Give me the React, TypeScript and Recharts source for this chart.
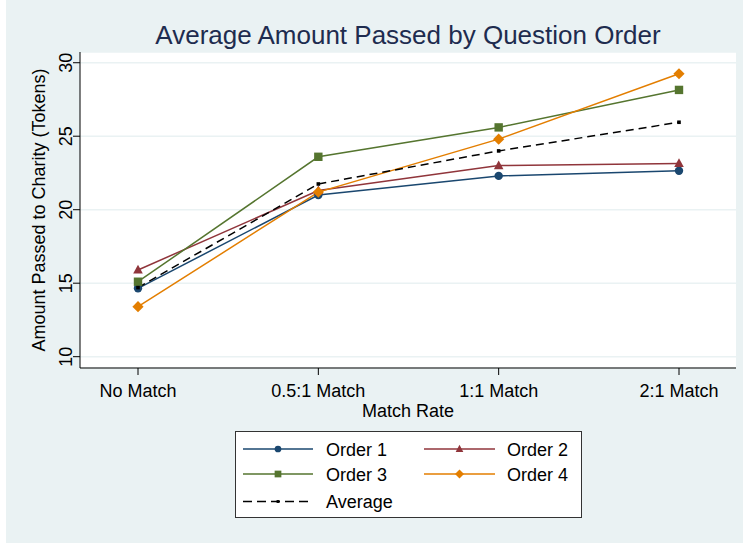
import React from 'react';
import { LineChart, Line, XAxis, YAxis, CartesianGrid } from 'recharts';

const matchRates = ['No Match', '0.5:1 Match', '1:1 Match', '2:1 Match'];
const order1 = [14.65, 21.0, 22.3, 22.65];
const order2 = [15.9, 21.3, 23.0, 23.15];
const order3 = [15.1, 23.6, 25.6, 28.15];
const order4 = [13.4, 21.2, 24.8, 29.25];
const average = [14.7, 21.75, 24.0, 25.95];
const yTicks = [10, 15, 20, 25, 30];

const FONT = '"Liberation Sans", Arial, sans-serif';
const BG = '#eaf2f3';

type Shape = 'circle' | 'triangle' | 'square' | 'diamond' | 'dot';

const seriesDefs: { key: string; name: string; color: string; shape: Shape; dash?: string }[] = [
  { key: 'o1', name: 'Order 1', color: '#1a476f', shape: 'circle' },
  { key: 'o2', name: 'Order 2', color: '#90353b', shape: 'triangle' },
  { key: 'o3', name: 'Order 3', color: '#55752f', shape: 'square' },
  { key: 'o4', name: 'Order 4', color: '#e37e00', shape: 'diamond' },
  { key: 'avg', name: 'Average', color: '#000000', shape: 'dot', dash: '8 5' },
];

const data = matchRates.map((rate, i) => ({
  rate,
  o1: order1[i],
  o2: order2[i],
  o3: order3[i],
  o4: order4[i],
  avg: average[i],
}));

// marker drawn at (cx, cy); s scales it down for the legend
const Marker = ({ shape, cx, cy, color, s = 1 }: { shape: Shape; cx: number; cy: number; color: string; s?: number }) => {
  if (shape === 'circle') return <circle cx={cx} cy={cy} r={4.2 * s} fill={color} />;
  if (shape === 'triangle') {
    const h = 5.2 * s;
    const w = 4.8 * s;
    return <polygon points={`${cx},${cy - h} ${cx - w},${cy + h * 0.7} ${cx + w},${cy + h * 0.7}`} fill={color} />;
  }
  if (shape === 'square') {
    const a = 4.2 * s;
    return <rect x={cx - a} y={cy - a} width={a * 2} height={a * 2} fill={color} />;
  }
  if (shape === 'diamond') {
    const d = 5.6 * s;
    return <polygon points={`${cx},${cy - d} ${cx + d},${cy} ${cx},${cy + d} ${cx - d},${cy}`} fill={color} />;
  }
  const a = 1.8 * s;
  return <rect x={cx - a} y={cy - a} width={a * 2} height={a * 2} fill={color} />;
};

const YTick = ({ x, y, payload }: any) => (
  <text
    transform={`translate(${x - 1},${y}) rotate(-90)`}
    textAnchor="middle"
    fontSize={18}
    fontFamily={FONT}
    fill="#000"
  >
    {payload.value}
  </text>
);

const YTitle = ({ viewBox }: any) => (
  <text
    transform={`translate(${viewBox.x + 4.5},${viewBox.y + viewBox.height / 2}) rotate(-90)`}
    textAnchor="middle"
    fontSize={18}
    fontFamily={FONT}
    fill="#000"
  >
    Amount Passed to Charity (Tokens)
  </text>
);

const LegendBox = () => {
  const rows = [18, 43, 70.5];
  const cols = [{ x1: 8, x2: 78, m: 43, t: 91 }, { x1: 189, x2: 260, m: 224.5, t: 272 }];
  return (
    <svg width={348} height={88} style={{ position: 'absolute', left: 235, top: 431 }}>
      <rect x={0.5} y={0.5} width={346} height={86} fill="#fff" stroke="#333" strokeWidth={1} />
      {seriesDefs.map((s, i) => {
        const c = cols[i % 2];
        const y = rows[Math.floor(i / 2)];
        return (
          <g key={s.key}>
            <line x1={c.x1} x2={c.x2} y1={y} y2={y} stroke={s.color} strokeWidth={1.5} strokeDasharray={s.dash ? '9 5' : undefined} />
            <Marker shape={s.shape} cx={c.m} cy={y} color={s.color} s={0.8} />
            <text x={c.t} y={y + 6.5} fontSize={18} fontFamily={FONT} fill="#000">
              {s.name}
            </text>
          </g>
        );
      })}
    </svg>
  );
};

export default function App() {
  return (
    <div style={{ position: 'relative', width: 743, height: 543, background: '#fff', overflow: 'hidden', fontFamily: FONT }}>
      <style>{'body{margin:0}'}</style>
      <div style={{ position: 'absolute', left: 6, top: 0, width: 737, height: 543, background: BG }} />
      <div
        style={{
          position: 'absolute',
          left: 80,
          width: 656,
          top: 21,
          textAlign: 'center',
          fontSize: 26,
          color: '#1e2c4f',
          lineHeight: '29px',
        }}
      >
        Average Amount Passed by Question Order
      </div>
      <div style={{ position: 'absolute', left: 0, top: 0 }}>
        <LineChart width={743} height={543} data={data} margin={{ top: 52, right: 7, bottom: 115, left: 40 }}>
          <CartesianGrid vertical={false} fill="#fff" stroke={BG} strokeWidth={1.5} />
          <XAxis
            dataKey="rate"
            padding={{ left: 58, right: 57 }}
            height={60}
            axisLine={{ stroke: '#000' }}
            tickLine={{ stroke: '#000' }}
            tickSize={7}
            tickMargin={9}
            tick={{ fontSize: 18, fontFamily: FONT, fill: '#000' }}
            interval={0}
            label={{ value: 'Match Rate', position: 'insideBottom', offset: 11.5, fontSize: 18, fontFamily: FONT, fill: '#000' }}
          />
          <YAxis
            width={40}
            domain={[9.23, 30.73]}
            ticks={yTicks}
            allowDataOverflow
            axisLine={{ stroke: '#000' }}
            tickLine={{ stroke: '#000' }}
            tickSize={7}
            tickMargin={0}
            tick={<YTick />}
            label={<YTitle />}
          />
          {seriesDefs.map((s) => (
            <Line
              key={s.key}
              type="linear"
              dataKey={s.key}
              name={s.name}
              stroke={s.color}
              strokeWidth={1.5}
              strokeDasharray={s.dash}
              isAnimationActive={false}
              activeDot={false}
              dot={(p: any) => <Marker key={`${s.key}-${p.index}`} shape={s.shape} cx={p.cx} cy={p.cy} color={s.color} />}
            />
          ))}
        </LineChart>
      </div>
      <LegendBox />
    </div>
  );
}
